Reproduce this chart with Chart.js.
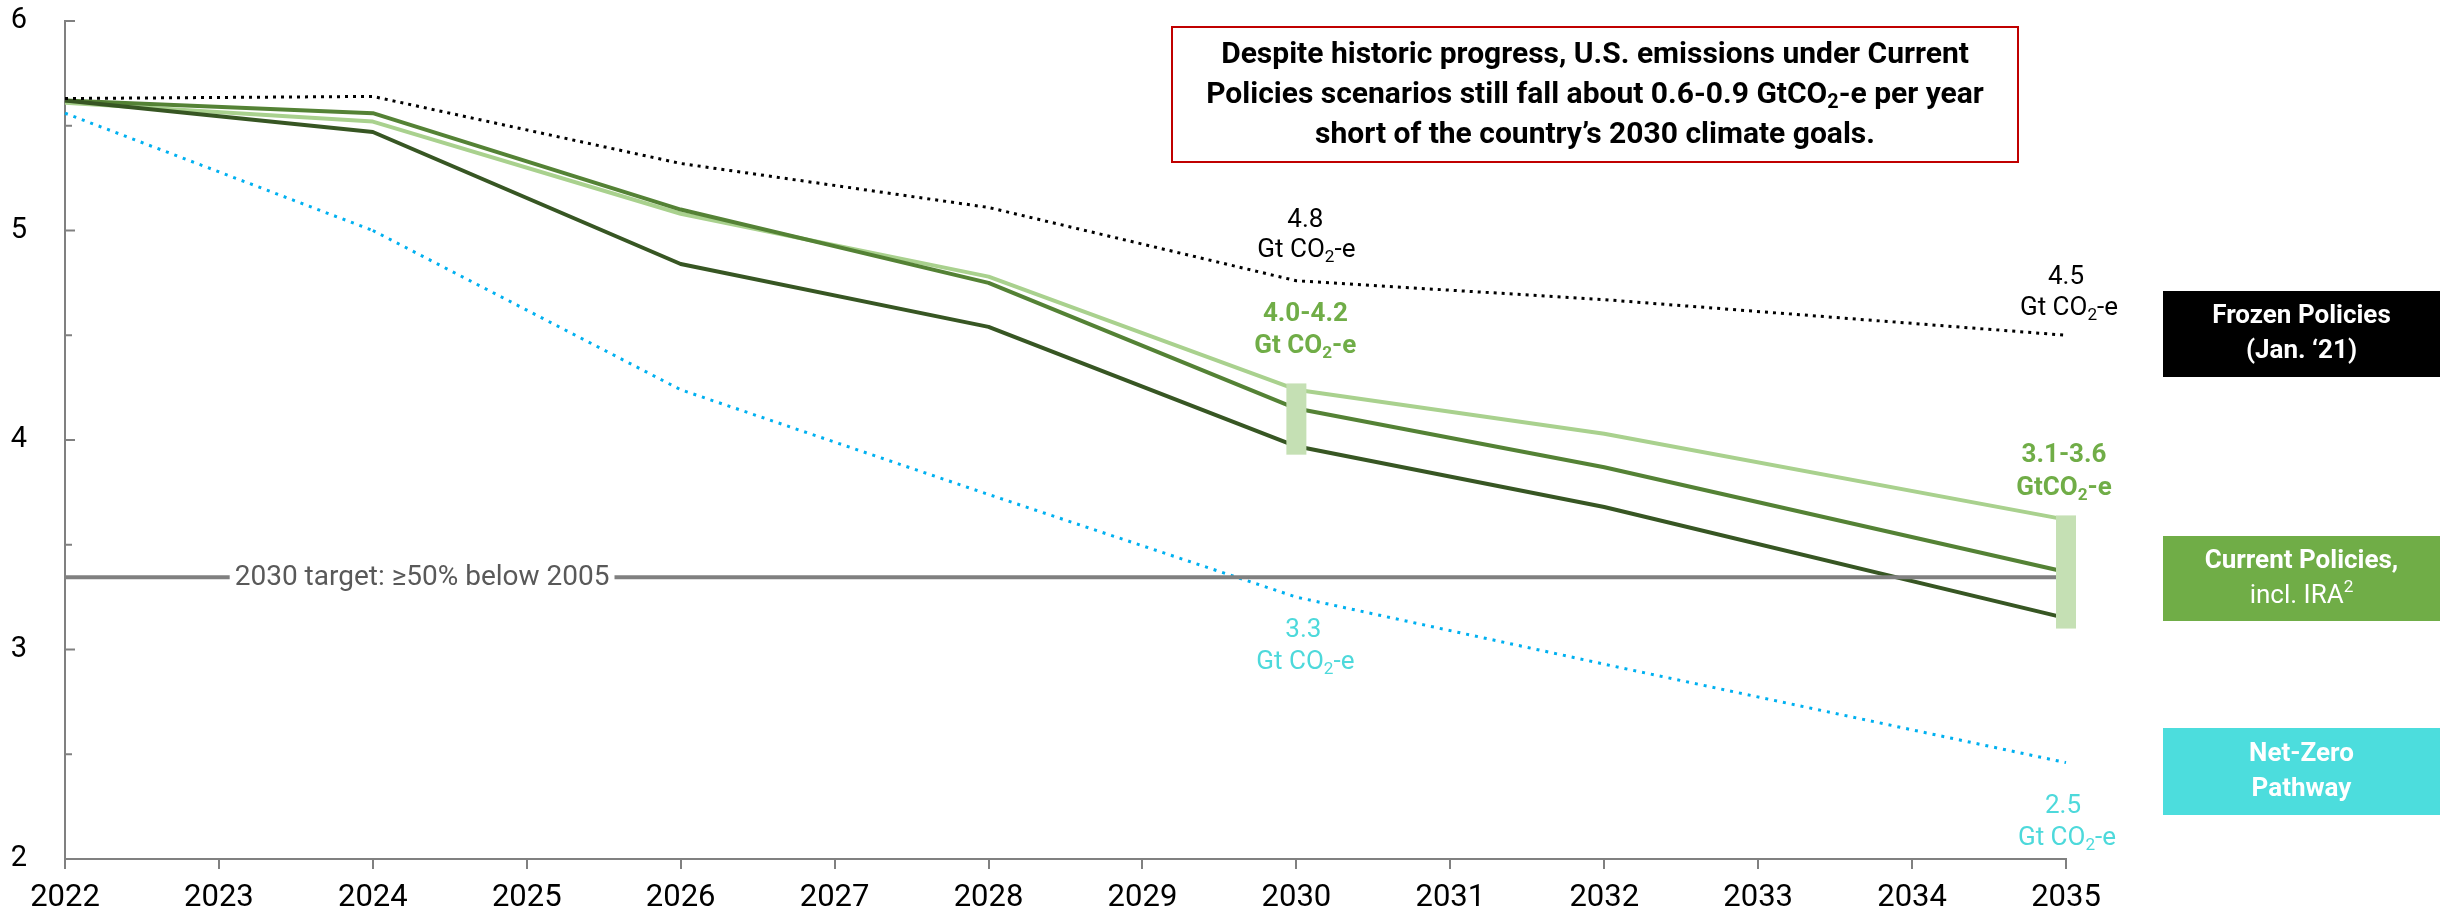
<!DOCTYPE html>
<html><head><meta charset="utf-8">
<script src="https://cdn.jsdelivr.net/npm/chart.js@4/dist/chart.umd.min.js"></script>
<style>html,body{margin:0;padding:0;background:#fff;}#wrap{width:2440px;height:913px;position:relative;}</style>
</head><body><div id="wrap"><canvas id="c" width="2440" height="913"></canvas></div>
<script>
// ---------- DATA ----------
const years = ['2022','2023','2024','2025','2026','2027','2028','2029','2030','2031','2032','2033','2034','2035'];
const frozenPolicies = [5.63, null, 5.64, null, 5.32, null, 5.11, null, 4.76, null, 4.67, null, null, 4.50];
const currentHigh    = [5.61, null, 5.52, null, 5.08, null, 4.78, null, 4.24, null, 4.03, null, null, 3.62];
const currentMid     = [5.62, null, 5.56, null, 5.10, null, 4.75, null, 4.15, null, 3.87, null, null, 3.37];
const currentLow     = [5.62, null, 5.47, null, 4.84, null, 4.54, null, 3.97, null, 3.68, null, null, 3.15];
const netZero        = [5.56, null, 5.00, null, 4.24, null, 3.74, null, 3.25, null, 2.93, null, null, 2.46];
const yMajorTicks = [2, 3, 4, 5, 6];
const yMinorTicks = [2.5, 3.5, 4.5, 5.5];
const targetValue = 3.345;
const targetLabel = '2030 target: \u226550% below 2005';
const rangeYears = ['2030', '2035'];
const rangeLow  = [3.93, 3.10];
const rangeHigh = [4.27, 3.64];
const titleLines = [
  [['Despite historic progress, U.S. emissions under Current']],
  [['Policies scenarios still fall about 0.6-0.9 GtCO'], ['2', 'sub'], ['-e per year']],
  [['short of the country\u2019s 2030 climate goals.']]
];

// ---------- STYLE / LAYOUT ----------
const FAM = 'Roboto, "Liberation Sans", sans-serif';
const C = { axis:'#808080', dark:'#375623', mid:'#548235', light:'#A9D18E', cyan:'#00B0F0',
            cyanText:'#4DD9DB', greenText:'#70AD47', range:'#C5E0B4', target:'#808080', targetText:'#595959' };

// annotations: anchored in data coordinates (category, value)
const annotations = [
  {year:'2030', v:5.050, dx:9, parts:[['4.8']], color:'#000', w:400},
  {year:'2030', v:4.905, dx:10, parts:[['Gt CO'],['2','sub'],['-e']], color:'#000', w:400},
  {year:'2030', v:4.597, dx:9, parts:[['4.0-4.2']], color:C.greenText, w:700},
  {year:'2030', v:4.445, dx:9, parts:[['Gt CO'],['2','sub'],['-e']], color:C.greenText, w:700},
  {year:'2030', v:3.093, dx:7, parts:[['3.3']], color:C.cyanText, w:400},
  {year:'2030', v:2.936, dx:9, parts:[['Gt CO'],['2','sub'],['-e']], color:C.cyanText, w:400},
  {year:'2035', v:4.774, dx:0, parts:[['4.5']], color:'#000', w:400},
  {year:'2035', v:4.630, dx:3, parts:[['Gt CO'],['2','sub'],['-e']], color:'#000', w:400},
  {year:'2035', v:3.924, dx:-2, parts:[['3.1-3.6']], color:C.greenText, w:700},
  {year:'2035', v:3.770, dx:-2, parts:[['GtCO'],['2','sub'],['-e']], color:C.greenText, w:700},
  {year:'2035', v:2.250, dx:-3, parts:[['2.5']], color:C.cyanText, w:400},
  {year:'2035', v:2.098, dx:1, parts:[['Gt CO'],['2','sub'],['-e']], color:C.cyanText, w:400}
];

const legendBoxes = [
  {color:'#000000', x0:2163, x1:2440, y0:291, y1:377, lines:[ {w:700, parts:[['Frozen Policies']]}, {w:700, parts:[['(Jan. \u201821)']]} ]},
  {color:'#70AD47', x0:2163, x1:2440, y0:536, y1:621, lines:[ {w:700, parts:[['Current Policies,']]}, {w:400, parts:[['incl. IRA'],['2','sup']]} ]},
  {color:'#4CDDDD', x0:2163, x1:2440, y0:728, y1:815, lines:[ {w:700, parts:[['Net-Zero']]}, {w:700, parts:[['Pathway']]} ]}
];

function drawRich(ctx, parts, cx, cy, size, weight, color){
  const segs = parts.map(([t,m]) => {
    const s = m ? size*0.66 : size;
    ctx.font = `${weight} ${s}px ${FAM}`;
    return {t, m, s, w: ctx.measureText(t).width};
  });
  const total = segs.reduce((a,s)=>a+s.w, 0);
  let x = cx - total/2;
  ctx.fillStyle = color; ctx.textBaseline = 'middle'; ctx.textAlign = 'left';
  segs.forEach(s => {
    ctx.font = `${weight} ${s.s}px ${FAM}`;
    const dy = s.m === 'sub' ? size*0.28 : (s.m === 'sup' ? -size*0.3 : 0);
    ctx.fillText(s.t, x, cy + dy);
    x += s.w;
  });
  return total;
}

const overlay = {
  id: 'overlay',
  afterDatasetsDraw(chart){
    const {ctx, chartArea:a, scales:{x, y}} = chart;
    ctx.save();
    // inward y tick marks
    ctx.strokeStyle = C.axis; ctx.lineWidth = 2;
    yMajorTicks.forEach(v => { const py = y.getPixelForValue(v); ctx.beginPath(); ctx.moveTo(a.left, py); ctx.lineTo(a.left+10, py); ctx.stroke(); });
    yMinorTicks.forEach(v => { const py = y.getPixelForValue(v); ctx.beginPath(); ctx.moveTo(a.left, py); ctx.lineTo(a.left+7, py); ctx.stroke(); });

    // target line with label gap
    const ty = y.getPixelForValue(targetValue);
    const tx1 = x.getPixelForValue(years.indexOf('2035'));
    ctx.font = `400 28px ${FAM}`;
    const lw = ctx.measureText(targetLabel).width;
    const lcx = x.getPixelForValue(2.32);
    ctx.strokeStyle = C.target; ctx.lineWidth = 4;
    ctx.beginPath(); ctx.moveTo(a.left, ty); ctx.lineTo(lcx - lw/2 - 5, ty); ctx.stroke();
    ctx.beginPath(); ctx.moveTo(lcx + lw/2 + 5, ty); ctx.lineTo(tx1, ty); ctx.stroke();
    drawRich(ctx, [[targetLabel]], lcx, ty + 1, 28, 400, C.targetText);

    // range bars
    ctx.fillStyle = C.range;
    rangeYears.forEach((yr, i) => {
      const px = x.getPixelForValue(years.indexOf(yr));
      const t = y.getPixelForValue(rangeHigh[i]), b = y.getPixelForValue(rangeLow[i]);
      ctx.fillRect(px - 10, t, 20, b - t);
    });

    // annotations
    annotations.forEach(an => {
      const px = x.getPixelForValue(years.indexOf(an.year)) + an.dx;
      drawRich(ctx, an.parts, px, y.getPixelForValue(an.v), 26, an.w, an.color);
    });

    // title box
    ctx.fillStyle = '#fff'; ctx.fillRect(1172, 27, 846, 135);
    ctx.strokeStyle = '#C00000'; ctx.lineWidth = 2; ctx.strokeRect(1172, 27, 846, 135);
    titleLines.forEach((ln, i) => drawRich(ctx, ln, 1595, 55 + i*40, 30, 700, '#000'));

    // side label boxes
    legendBoxes.forEach(bx => {
      ctx.fillStyle = bx.color; ctx.fillRect(bx.x0, bx.y0, bx.x1 - bx.x0, bx.y1 - bx.y0);
      const cy = (bx.y0 + bx.y1)/2, cx = (bx.x0 + bx.x1)/2;
      bx.lines.forEach((ln, i) => drawRich(ctx, ln.parts, cx, cy + (i - 0.5)*35, 26, ln.w, '#fff'));
    });
    ctx.restore();
  }
};

const lineDefaults = {pointRadius:0, spanGaps:true, tension:0, fill:false, borderCapStyle:'butt', borderJoinStyle:'round'};
new Chart(document.getElementById('c'), {
  type: 'line',
  data: {
    labels: years,
    datasets: [
      Object.assign({label:'Net-Zero Pathway', data:netZero, borderColor:C.cyan, borderWidth:3, borderDash:[3,6],
        segment:{ borderWidth: s => (s.p0DataIndex === 2 ? 4 : 3), borderColor: s => (s.p0DataIndex === 2 ? '#00A6E8' : C.cyan) }}, lineDefaults),
      Object.assign({label:'Frozen Policies (Jan. \u201821)', data:frozenPolicies, borderColor:'#000', borderWidth:3, borderDash:[3,5]}, lineDefaults),
      Object.assign({label:'Current Policies, low', data:currentLow, borderColor:C.dark, borderWidth:4}, lineDefaults),
      Object.assign({label:'Current Policies, mid', data:currentMid, borderColor:C.mid, borderWidth:4}, lineDefaults),
      Object.assign({label:'Current Policies, high', data:currentHigh, borderColor:C.light, borderWidth:4}, lineDefaults)
    ]
  },
  options: {
    responsive:false, animation:false, events:[],
    layout:{padding:{top:21, right:374, left:0, bottom:0}},
    plugins:{legend:{display:false}, tooltip:{enabled:false}},
    scales:{
      x:{ offset:false,
          grid:{display:true, drawOnChartArea:false, drawTicks:true, tickLength:10, color:C.axis, lineWidth:2},
          border:{display:true, color:C.axis, width:2},
          ticks:{font:{family:FAM, size:31}, color:'#000', padding:11, maxRotation:0, autoSkip:false},
          afterFit(s){ s.height = 54; s.paddingLeft = 0; s.paddingRight = 0; } },
      y:{ min:2, max:6,
          afterBuildTicks(s){ s.ticks = yMajorTicks.map(v => ({value:v})); },
          grid:{display:false},
          border:{display:true, color:C.axis, width:2},
          ticks:{font:{family:FAM, size:29}, color:'#000', padding:30},
          afterFit(s){ s.width = 65; s.paddingTop = 0; s.paddingBottom = 0; } }
    }
  },
  plugins:[overlay]
});
</script></body></html>
